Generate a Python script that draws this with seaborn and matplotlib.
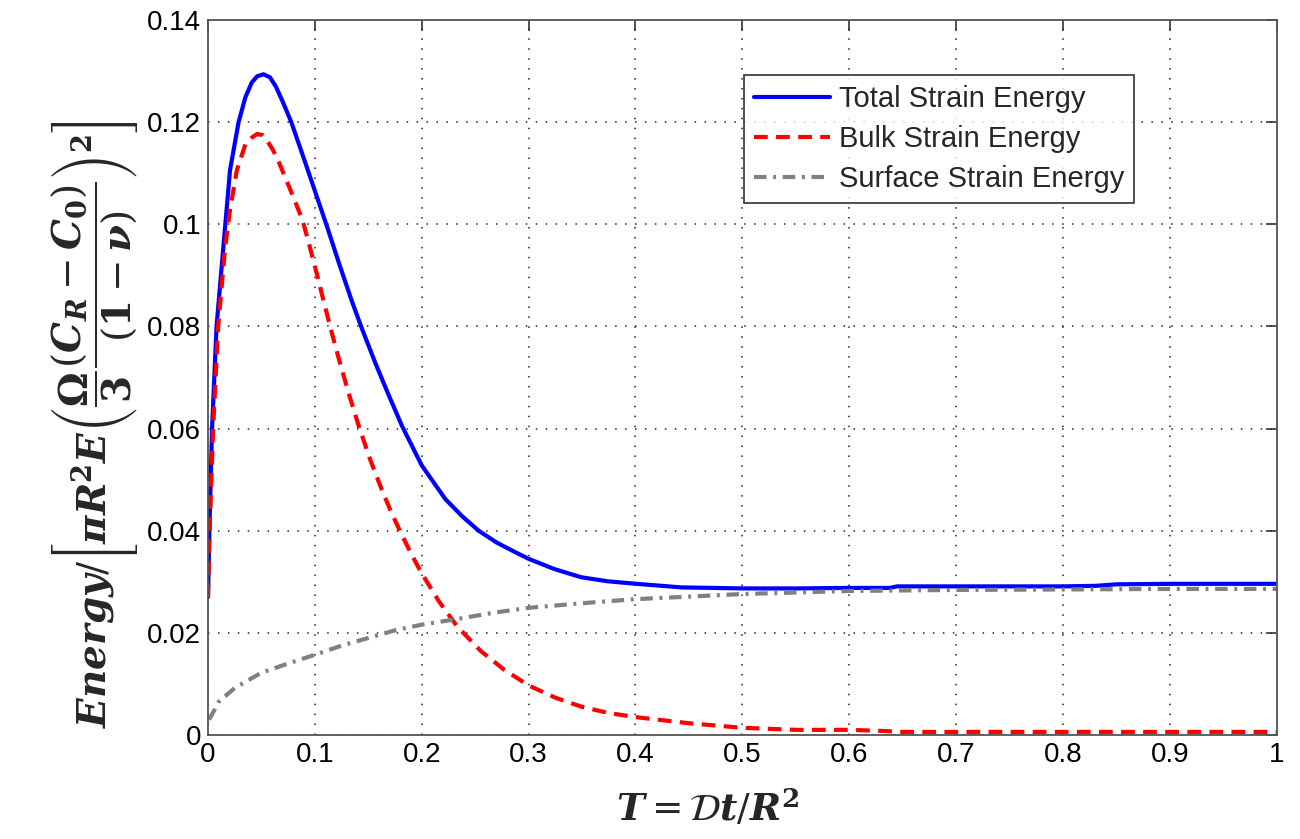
import matplotlib
matplotlib.use("Agg")
import matplotlib.pyplot as plt
import seaborn as sns
import pandas as pd

# ---- data ----
x_total = [0.0, 0.0015, 0.0038, 0.008, 0.0143, 0.0206, 0.0286, 0.035, 0.041, 0.046, 0.052,
           0.058, 0.0635, 0.07, 0.078, 0.092, 0.1006, 0.1115, 0.1224, 0.1349, 0.1442, 0.1567,
           0.1692, 0.1816, 0.2, 0.2221, 0.238, 0.2533, 0.27, 0.2875, 0.3, 0.324, 0.349, 0.374,
           0.401, 0.443, 0.501, 0.55, 0.6, 0.638, 0.645, 0.7, 0.8, 0.83, 0.85, 0.9, 1.0]
y_total = [0.027, 0.042, 0.060, 0.080, 0.0954, 0.1106, 0.120, 0.1249, 0.1278, 0.129, 0.1294,
           0.1288, 0.127, 0.124, 0.120, 0.1115, 0.1062, 0.0995, 0.0925, 0.0848, 0.0795, 0.0728,
           0.0665, 0.0605, 0.0528, 0.0462, 0.0428, 0.0400, 0.0377, 0.0358, 0.0345, 0.0325,
           0.0309, 0.0301, 0.0296, 0.0289, 0.0287, 0.0287, 0.0288, 0.0288, 0.0291, 0.0291,
           0.0291, 0.0292, 0.0295, 0.0296, 0.0296]

x_bulk = [0.0, 0.0015, 0.0048, 0.0095, 0.016, 0.0206, 0.027, 0.035, 0.041, 0.046, 0.051,
          0.0556, 0.061, 0.0667, 0.078, 0.0882, 0.0944, 0.1022, 0.1084, 0.1162, 0.1224, 0.1318,
          0.1411, 0.152, 0.1614, 0.1707, 0.18, 0.1894, 0.199, 0.216, 0.233, 0.255, 0.277, 0.3,
          0.325, 0.35, 0.375, 0.4, 0.45, 0.5, 0.55, 0.6, 0.63, 0.65, 0.7, 0.8, 0.9, 1.0]
y_bulk = [0.027, 0.040, 0.060, 0.080, 0.0954, 0.1028, 0.1106, 0.1157, 0.117, 0.1177, 0.1175,
          0.1163, 0.1145, 0.112, 0.1063, 0.1010, 0.0963, 0.0900, 0.0848, 0.0785, 0.0737, 0.0668,
          0.0605, 0.0538, 0.0487, 0.0440, 0.0398, 0.0358, 0.0320, 0.0262, 0.0213, 0.0165, 0.0128,
          0.0097, 0.0073, 0.0055, 0.0043, 0.0035, 0.0023, 0.0014, 0.001, 0.001, 0.0008, 0.0006,
          0.0006, 0.0006, 0.0006, 0.0006]

x_surf = [0.001, 0.005, 0.01, 0.025, 0.05, 0.075, 0.1, 0.125, 0.15, 0.175, 0.2, 0.233,
          0.266, 0.3, 0.35, 0.4, 0.45, 0.5, 0.6, 0.7, 0.8, 0.9, 1.0]
y_surf = [0.003, 0.0045, 0.0065, 0.0092, 0.0122, 0.014, 0.0157, 0.0175, 0.019, 0.0205,
          0.0216, 0.0227, 0.0239, 0.0249, 0.0258, 0.0266, 0.0271, 0.0276, 0.0282, 0.0284,
          0.0285, 0.0286, 0.0286]

series_names = ["Total Strain Energy", "Bulk Strain Energy", "Surface Strain Energy"]
x_ticks = [0, 0.1, 0.2, 0.3, 0.4, 0.5, 0.6, 0.7, 0.8, 0.9, 1.0]
x_tick_labels = ["0", "0.1", "0.2", "0.3", "0.4", "0.5", "0.6", "0.7", "0.8", "0.9", "1"]
y_ticks = [0, 0.02, 0.04, 0.06, 0.08, 0.10, 0.12, 0.14]
y_tick_labels = ["0", "0.02", "0.04", "0.06", "0.08", "0.1", "0.12", "0.14"]

sns.set_theme(style="white")
plt.rcParams["font.family"] = ["Liberation Sans", "DejaVu Sans"]
plt.rcParams["mathtext.fontset"] = "dejavuserif"

fig = plt.figure(figsize=(13, 8.39), dpi=100)
ax = fig.add_axes([0.16, 0.124, 0.822, 0.852])

df_t = pd.DataFrame({"x": x_total, "y": y_total})
df_b = pd.DataFrame({"x": x_bulk, "y": y_bulk})
df_s = pd.DataFrame({"x": x_surf, "y": y_surf})

sns.lineplot(data=df_t, x="x", y="y", ax=ax, color="#0000ff", linewidth=3.0,
             label=series_names[0], sort=False)
sns.lineplot(data=df_b, x="x", y="y", ax=ax, color="#ff0000", linewidth=3.0,
             label=series_names[1], sort=False)
sns.lineplot(data=df_s, x="x", y="y", ax=ax, color="#808080", linewidth=3.0,
             label=series_names[2], sort=False)

lines = ax.get_lines()
lines[0].set_linestyle("-")
lines[1].set_linestyle((0, (3.3, 2.0)))
lines[2].set_linestyle((0, (3.0, 1.6, 0.7, 1.6)))
for ln in lines:
    ln.set_solid_joinstyle("round")
    ln.set_dash_joinstyle("round")

ax.set_xlim(0, 1)
ax.set_ylim(0, 0.14)
ax.set_xticks(x_ticks)
ax.set_xticklabels(x_tick_labels)
ax.set_yticks(y_ticks)
ax.set_yticklabels(y_tick_labels)
ax.tick_params(direction="in", length=8, width=1.2, colors="#333333", labelcolor="black",
               labelsize=20, top=True, right=True, pad=5)
ax.grid(True, linestyle=(0, (1, 5.5)), color="#222222", linewidth=1.1)
for sp in ax.spines.values():
    sp.set_color("#555555")
    sp.set_linewidth(1.3)

ax.set_xlabel(r"$\mathbfit{T}=\mathcal{D}\mathbfit{t}/\mathbfit{R}^{\mathbf{2}}$", fontsize=27)
ax.xaxis.set_label_coords(0.467, -0.075)
ax.set_ylabel(r"$\mathbfit{Energy}/\left[\mathbfit{\pi} \mathbfit{R}^{\mathbf{2}}\mathbfit{E}\left(\dfrac{\mathbf{\Omega}}{\mathbf{3}}\dfrac{(\mathbfit{C}_{\mathbfit{R}}-\mathbfit{C}_{\mathbf{0}})}{(\mathbf{1}-\mathbfit{\nu})}\right)^{\mathbf{2}}\right]$",
              fontsize=28)
ax.yaxis.set_label_coords(-0.064, 0.435)

leg = ax.legend(loc="upper right", bbox_to_anchor=(0.867, 0.923), borderaxespad=0,
                fontsize=21, frameon=True, fancybox=False, edgecolor="black",
                handlelength=2.6, handletextpad=0.3, labelspacing=0.4, borderpad=0.35)
leg.get_frame().set_linewidth(1.2)

fig.savefig("out.png", dpi=100, facecolor="white")
